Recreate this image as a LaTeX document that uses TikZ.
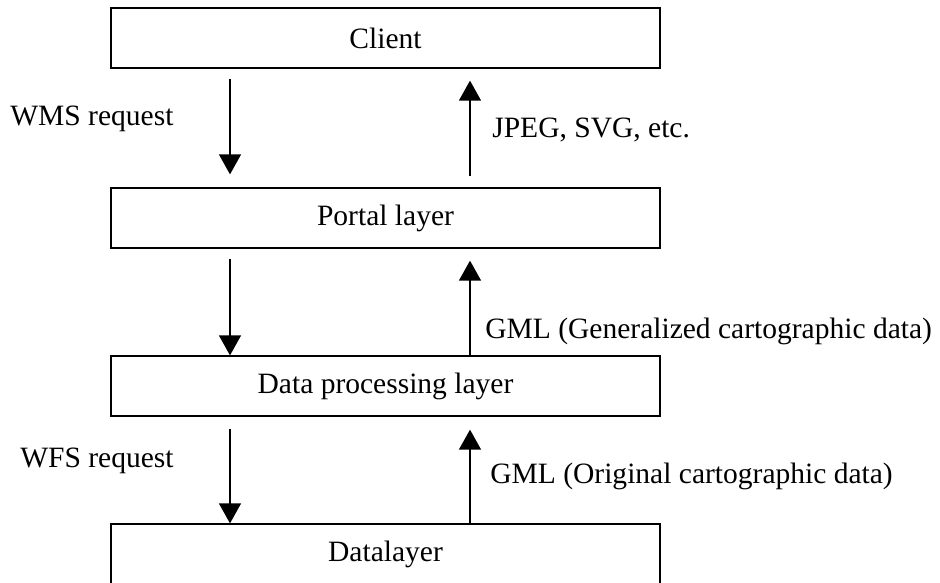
\documentclass[tikz,border=0pt]{standalone}
\usepackage{fontspec}
\setmainfont{Liberation Serif}
\usetikzlibrary{arrows.meta}

\tikzset{
	layer/.style={draw, line width=0.75pt, rectangle, inner sep=0pt, minimum width=10.98cm, minimum height=1.2cm, font=\fontsize{16.8}{20}\selectfont},
	flow/.style={line width=0.75pt, -{Triangle[width=0.44cm,length=0.4cm]}},
	lbl/.style={anchor=base west, inner sep=0pt, font=\fontsize{16.8}{20}\selectfont}
}

\begin{document}
\begin{tikzpicture}[x=0.02cm,y=-0.02cm]
	% Parameters
	\def\boxx{385.5}
	\def\xdown{230}
	\def\xup{470}
	
	\useasboundingbox (0,0) rectangle (940,582);
	
	%layers
	\node[layer] (client) at (\boxx,38) {Client};
	\node[layer] (portal) at (\boxx,218) {Portal layer};
	\node[layer] (proc) at (\boxx,386) {Data processing layer};
	\node[layer] (data) at (\boxx,554) {Datalayer};
	
	\coordinate (dn) at (\xdown,0);
	\coordinate (up) at (\xup,0);
	
	%requests
	\draw[flow, shorten <=0.2cm, shorten >=0.26cm] (client.south -| dn) -- (portal.north -| dn);
	\draw[flow, shorten <=0.2cm] (portal.south -| dn) -- (proc.north -| dn);
	\draw[flow, shorten <=0.24cm] (proc.south -| dn) -- (data.north -| dn);
	
	%responses
	\draw[flow, shorten <=0.22cm, shorten >=0.24cm] (portal.north -| up) -- (client.south -| up);
	\draw[flow, shorten >=0.24cm] (proc.north -| up) -- (portal.south -| up);
	\draw[flow, shorten >=0.26cm] (data.north -| up) -- (proc.south -| up);
	
	%labels
	\node[lbl] (wms) at (10,125) {WMS request};
	\node[lbl] (jpeg) at (492,137) {JPEG, SVG, etc.};
	\node[lbl] (gmlgen) at (485,338) {GML (Generalized cartographic data)};
	\node[lbl] (wfs) at (20,467) {WFS request};
	\node[lbl] (gmlorig) at (490,483) {GML (Original cartographic data)};
	
\end{tikzpicture}
\end{document}
